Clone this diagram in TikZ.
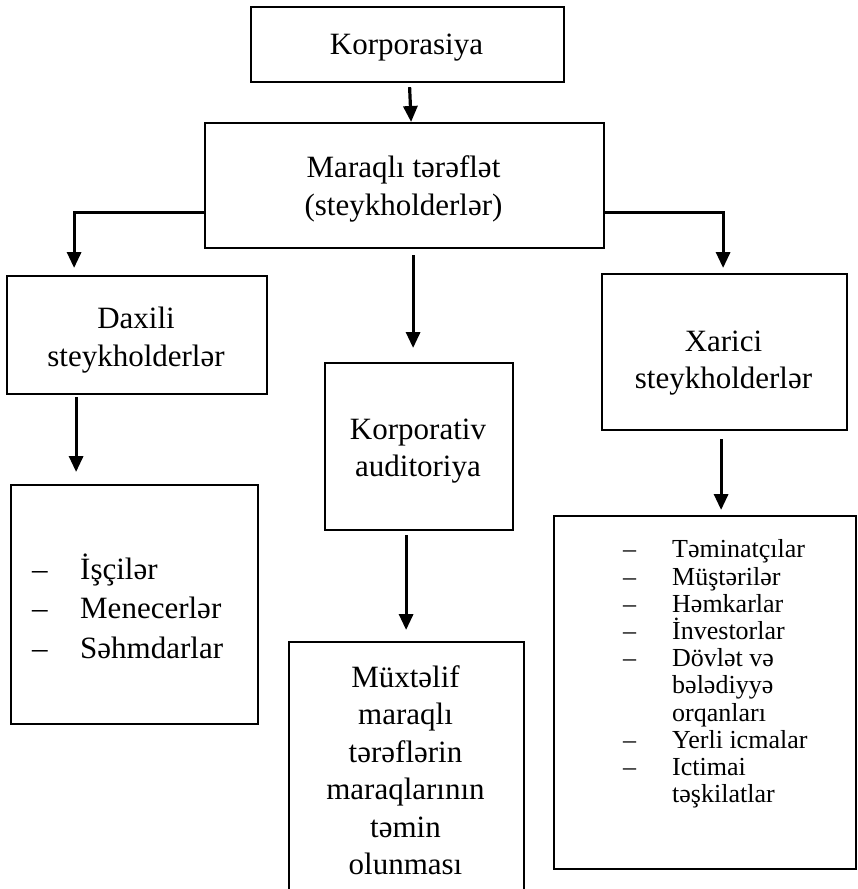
\documentclass[tikz,border=0pt]{standalone}
\usepackage{fontspec}
\setmainfont{Liberation Serif}
\usetikzlibrary{arrows.meta}
\begin{document}
\begin{tikzpicture}[x=1pt,y=-1pt,
  nbox/.style={draw, line width=2.2pt, inner sep=0pt, anchor=north west},
  txt/.style={font=\fontsize{31}{37.5}\selectfont, align=center, inner sep=0pt},
  lstbig/.style={font=\fontsize{31}{39.5}\selectfont, align=left, inner sep=0pt, anchor=west},
  lstsmall/.style={font=\fontsize{26}{27.2}\selectfont, align=left, inner sep=0pt, anchor=west},
  arr/.style={line width=3.2pt, -{Triangle[length=16pt,width=14pt]}}]
\useasboundingbox (0,0) rectangle (857,889);
\clip (0,0) rectangle (857,889);
\fill[white] (0,0) rectangle (857,889);

% boxes
\node[nbox, minimum width=313pt, minimum height=75pt] (k) at (250,6) {};
\node[txt] (kt) at (406.5,47.5) {Korporasiya};
\node[nbox, minimum width=399pt, minimum height=125pt] (m) at (204,122) {};
\node[txt] (mt) at (403.5,189) {Maraqlı tərəflət\\(steykholderlər)};
\node[nbox, minimum width=260pt, minimum height=118pt] (d) at (6,275) {};
\node[txt] (dt) at (136,340) {Daxili\\steykholderlər};
\node[nbox, minimum width=245pt, minimum height=156pt] (x) at (601,273) {};
\node[txt] (xt) at (723.5,363) {Xarici\\steykholderlər};
\node[nbox, minimum width=188pt, minimum height=167pt] (ka) at (324,362) {};
\node[txt] (kat) at (418,451) {Korporativ\\auditoriya};
\node[nbox, minimum width=247pt, minimum height=239pt] (di) at (10,484) {};
\node[lstbig] (dil) at (32,606) {\makebox[48pt][l]{–}İşçilər\\\makebox[48pt][l]{–}Menecerlər\\\makebox[48pt][l]{–}Səhmdarlar};
\node[nbox, minimum width=235pt, minimum height=270pt] (mu) at (288,641) {};
\node[txt] (mut) at (405.5,770) {Müxtəlif\\maraqlı\\tərəflərin\\maraqlarının\\təmin\\olunması};
\node[nbox, minimum width=302pt, minimum height=353pt] (xi) at (553,515) {};
\node[lstsmall] (xil) at (623,674) {\makebox[49pt][l]{–}Təminatçılar\\
\makebox[49pt][l]{–}Müştərilər\\
\makebox[49pt][l]{–}Həmkarlar\\
\makebox[49pt][l]{–}İnvestorlar\\
\makebox[49pt][l]{–}Dövlət və\\
\hspace*{49pt}bələdiyyə\\
\hspace*{49pt}orqanları\\
\makebox[49pt][l]{–}Yerli icmalar\\
\makebox[49pt][l]{–}Ictimai\\
\hspace*{49pt}təşkilatlar};

% connectors
\draw[arr] ([shift={(2,4)}]k.south) -- ([shift={(6.5,0)}]m.north);
\draw[arr] ([shift={(0,26.5)}]m.west) -| ([shift={(-63,-7)}]d.north);
\draw[arr] ([shift={(0,26.5)}]m.east) -| ([shift={(-1.5,-5)}]x.north);
\draw[arr] ([shift={(8.5,6)}]m.south) -- ([shift={(-6,-14)}]ka.north);
\draw[arr] ([shift={(-61,2)}]d.south) -- ([shift={(-58.5,-12)}]di.north);
\draw[arr] ([shift={(-3.5,8)}]x.south) -- ([shift={(16,-5)}]xi.north);
\draw[arr] ([shift={(-13,4)}]ka.south) -- ([shift={(-0.5,-11)}]mu.north);
\end{tikzpicture}
\end{document}
